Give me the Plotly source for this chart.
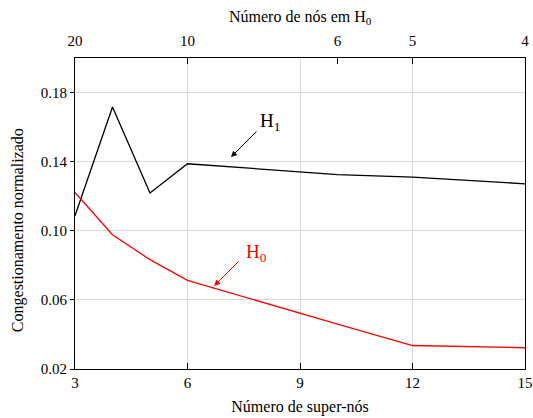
import plotly.graph_objects as go

# Data
super_nodes = [3, 4, 5, 6, 10, 12, 15]
h1_values = [0.1087, 0.1716, 0.1219, 0.1388, 0.1325, 0.1311, 0.1272]
h0_values = [0.1222, 0.0977, 0.0833, 0.0713, 0.0460, 0.0336, 0.0323]

top_tick_positions = [3, 6, 10, 12, 15]
top_tick_labels = ["20", "10", "6", "5", "4"]

bottom_ticks = [3, 6, 9, 12, 15]
y_ticks = [0.02, 0.06, 0.10, 0.14, 0.18]

# annotation placement (label and arrow head in data coords)
h1_label_pos = (8.20, 0.1629)
h1_arrow_head = (7.16, 0.1427)
h0_label_pos = (7.83, 0.0870)
h0_arrow_head = (6.71, 0.0681)

FONT = "'Liberation Serif', 'Times New Roman', serif"
GRID = "#d9d9d9"

fig = go.Figure()
fig.add_trace(go.Scatter(x=super_nodes, y=h1_values, mode="lines",
                         line=dict(color="black", width=1.3),
                         showlegend=False, hoverinfo="skip"))
fig.add_trace(go.Scatter(x=super_nodes, y=h0_values, mode="lines",
                         line=dict(color="#ff0000", width=1.3),
                         showlegend=False, hoverinfo="skip"))
# invisible trace to activate the top axis
fig.add_trace(go.Scatter(x=[super_nodes[0], super_nodes[-1]], y=[None, None],
                         xaxis="x2", mode="lines", showlegend=False,
                         hoverinfo="skip"))

fig.update_layout(
    width=533, height=418,
    margin=dict(l=75, r=8, t=58, b=49, autoexpand=False),
    plot_bgcolor="white", paper_bgcolor="white",
    font=dict(family=FONT, size=15, color="black"),
    xaxis=dict(
        range=[3, 15], tickvals=bottom_ticks, automargin=False,
        ticks="inside", ticklen=6, tickcolor="black",
        showline=True, linecolor="black", linewidth=1.2,
        showgrid=True, gridcolor=GRID, gridwidth=1,
        zeroline=False, ticklabeloverflow="allow",
        title=dict(text="Número de super-nós", font=dict(size=16, family=FONT), standoff=10),
        tickfont=dict(size=15, family=FONT),
    ),
    xaxis2=dict(
        range=[3, 15], overlaying="x", side="top", automargin=False,
        tickvals=top_tick_positions, ticktext=top_tick_labels,
        ticks="inside", ticklen=6, tickcolor="black",
        showline=True, linecolor="black", linewidth=1.2,
        showgrid=False, zeroline=False, ticklabeloverflow="allow",
        ticklabelstandoff=5,
        tickfont=dict(size=15, family=FONT),
    ),
    yaxis=dict(
        range=[0.02, 0.20], tickvals=y_ticks, tickformat=".2f", automargin=False,
        ticks="outside", ticklen=4, tickcolor="black",
        showline=True, linecolor="black", linewidth=1.2, mirror=True,
        showgrid=True, gridcolor=GRID, gridwidth=1,
        zeroline=False,
        tickfont=dict(size=15, family=FONT),
    ),
)

# top axis title
fig.add_annotation(xref="paper", yref="paper", x=0.5, y=1.1287,
                   text="Número de nós em H<sub>0</sub>",
                   showarrow=False, xanchor="center", yanchor="middle",
                   font=dict(size=16, family=FONT, color="black"))
# y-axis title (sits a bit below the axis centre in the reference)
fig.add_annotation(xref="paper", yref="paper", x=-0.127, y=0.446,
                   text="Congestionamento normalizado", textangle=-90,
                   showarrow=False, xanchor="center", yanchor="middle",
                   font=dict(size=16, family=FONT, color="black"))

fig.add_annotation(x=h1_arrow_head[0], y=h1_arrow_head[1], text="",
                   showarrow=True, ax=27, ay=-27,
                   arrowhead=2, arrowsize=1.2, arrowwidth=1, arrowcolor="black")
fig.add_annotation(x=h1_label_pos[0], y=h1_label_pos[1], text="H<sub>1</sub>",
                   showarrow=False, font=dict(size=19, color="black", family=FONT))
fig.add_annotation(x=h0_arrow_head[0], y=h0_arrow_head[1], text="",
                   showarrow=True, ax=26, ay=-26,
                   arrowhead=2, arrowsize=1.2, arrowwidth=1, arrowcolor="#ff0000")
fig.add_annotation(x=h0_label_pos[0], y=h0_label_pos[1], text="H<sub>0</sub>",
                   showarrow=False, font=dict(size=19, color="#ff0000", family=FONT))

fig.write_html("out.html", config={"displayModeBar": False},
               post_script="document.body.style.margin='0';")
